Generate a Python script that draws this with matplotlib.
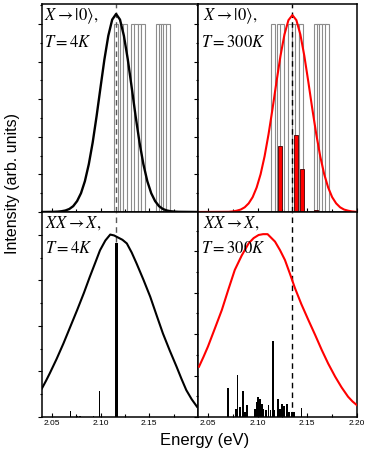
import matplotlib
matplotlib.use("Agg")
import matplotlib.pyplot as plt
from matplotlib.ticker import MultipleLocator, FixedLocator

plt.rcParams['font.family'] = ['Liberation Sans', 'DejaVu Sans']
plt.rcParams['mathtext.fontset'] = 'stix'

# ---------------- data ----------------
# energy levels (gray outlined bars), shared by both top panels
levels = [2.1155, 2.1215, 2.1250, 2.1330, 2.1365, 2.1400, 2.1440,
          2.1590, 2.1615, 2.1640, 2.1665, 2.1695]
level_height = [1.0] * len(levels)

# top-left: X -> |0>, T = 4K (black curve)
tl_x = [2.040, 2.052, 2.056, 2.060, 2.064, 2.068, 2.072, 2.076, 2.080,
        2.084, 2.088, 2.092, 2.096, 2.100, 2.104, 2.108, 2.112, 2.116,
        2.120, 2.124, 2.128, 2.132, 2.136, 2.140, 2.144, 2.148, 2.152,
        2.156, 2.160, 2.164, 2.168, 2.172, 2.176, 2.180, 2.200]
tl_y = [0.000, 0.001, 0.002, 0.004, 0.008, 0.016, 0.031, 0.058, 0.100,
        0.164, 0.254, 0.370, 0.510, 0.662, 0.811, 0.937, 1.023, 1.053,
        1.023, 0.937, 0.811, 0.662, 0.510, 0.370, 0.254, 0.164, 0.100,
        0.058, 0.031, 0.016, 0.008, 0.004, 0.002, 0.001, 0.000]
tl_line = 2.116

# top-right: X -> |0>, T = 300K (red curve + red bars)
tr_x = [2.040, 2.071, 2.075, 2.079, 2.083, 2.087, 2.091, 2.095, 2.099,
        2.103, 2.107, 2.111, 2.115, 2.119, 2.123, 2.127, 2.131, 2.135,
        2.139, 2.143, 2.147, 2.151, 2.155, 2.159, 2.163, 2.167, 2.171,
        2.175, 2.179, 2.183, 2.187, 2.191, 2.195, 2.199]
tr_y = [0.000, 0.001, 0.003, 0.007, 0.013, 0.025, 0.046, 0.079, 0.130,
        0.201, 0.296, 0.414, 0.549, 0.693, 0.830, 0.944, 1.020, 1.047,
        1.020, 0.944, 0.830, 0.693, 0.549, 0.414, 0.296, 0.201, 0.130,
        0.079, 0.046, 0.025, 0.013, 0.007, 0.003, 0.001]
tr_bar_x = [2.1225, 2.1388, 2.1445, 2.1590]
tr_bar_y = [0.350, 0.410, 0.230, 0.012]
tr_line = 2.135

# bottom-left: XX -> X, T = 4K
bl_x = [2.040, 2.044, 2.048, 2.055, 2.062, 2.069, 2.076, 2.083, 2.089,
        2.0945, 2.0995, 2.105, 2.110, 2.114, 2.118, 2.1225, 2.127, 2.132,
        2.137, 2.144, 2.151, 2.1575, 2.164, 2.171, 2.178, 2.183, 2.188,
        2.1935, 2.199]
bl_y = [0.126, 0.158, 0.192, 0.255, 0.323, 0.396, 0.469, 0.545, 0.615,
        0.676, 0.732, 0.775, 0.801, 0.797, 0.788, 0.778, 0.762, 0.722,
        0.674, 0.603, 0.528, 0.447, 0.367, 0.292, 0.221, 0.168, 0.118,
        0.078, 0.045]
bl_bar_x = [2.0694, 2.0760, 2.0790, 2.0926, 2.0988, 2.1161]
bl_bar_y = [0.026, 0.006, 0.006, 0.004, 0.114, 0.765]
bl_bar_w = [0.0012, 0.0012, 0.0012, 0.0012, 0.0014, 0.003]

# bottom-right: XX -> X, T = 300K
br_x = [2.041, 2.0455, 2.050, 2.057, 2.064, 2.0705, 2.077, 2.084, 2.091,
        2.096, 2.101, 2.1055, 2.110, 2.1175, 2.1225, 2.1275, 2.1325, 2.1376,
        2.144, 2.151, 2.158, 2.1645, 2.171, 2.178, 2.1845, 2.191, 2.1955,
        2.1997]
br_y = [0.243, 0.290, 0.340, 0.428, 0.517, 0.615, 0.710, 0.780, 0.839,
        0.864, 0.879, 0.883, 0.883, 0.847, 0.806, 0.758, 0.692, 0.622,
        0.545, 0.469, 0.395, 0.324, 0.258, 0.195, 0.143, 0.098, 0.075,
        0.058]
br_bar_x = [2.0705, 2.0779, 2.0799, 2.0820, 2.0850, 2.0873, 2.0893, 2.0974,
            2.0994, 2.1007, 2.1027, 2.1041, 2.1057, 2.1081, 2.1108, 2.1128,
            2.1152, 2.1168, 2.1208, 2.1228, 2.1248, 2.1268, 2.1293, 2.1319,
            2.1343, 2.1369, 2.1443]
br_bar_y = [0.139, 0.037, 0.203, 0.050, 0.126, 0.024, 0.058, 0.041,
            0.073, 0.098, 0.089, 0.065, 0.041, 0.032, 0.058, 0.032,
            0.367, 0.032, 0.087, 0.041, 0.065, 0.053, 0.063, 0.024,
            0.024, 0.024, 0.045]
br_line = 2.135

xticks = [2.05, 2.10, 2.15, 2.20]
xticklabels = ['2.05', '2.10', '2.15', '2.20']

# ---------------- layout ----------------
W, H = 374, 461
fig = plt.figure(figsize=(W / 100, H / 100), dpi=100)

def frac(x0, y0, x1, y1):
    return [x0 / W, 1 - y1 / H, (x1 - x0) / W, (y1 - y0) / H]

ax_tl = fig.add_axes(frac(42, 4, 198, 212))
ax_tr = fig.add_axes(frac(198, 4, 357, 212))
ax_bl = fig.add_axes(frac(42, 212, 198, 417))
ax_br = fig.add_axes(frac(198, 212, 357, 417))

for ax in (ax_tl, ax_tr, ax_bl, ax_br):
    ax.set_xlim(2.04, 2.20)
    for s in ax.spines.values():
        s.set_linewidth(1.1)
    ax.xaxis.set_major_locator(FixedLocator(xticks))
    ax.xaxis.set_minor_locator(MultipleLocator(0.025))
    ax.tick_params(axis='x', which='major', direction='in', length=3, width=0.8,
                   labelsize=6, pad=2)
    ax.tick_params(axis='x', which='minor', direction='in', length=2, width=0.8)
    ax.tick_params(axis='y', which='major', direction='out', length=3, width=0.8,
                   labelleft=False)
    ax.tick_params(axis='y', which='minor', direction='out', length=1.6, width=0.8)

for ax in (ax_tl, ax_tr):
    ax.set_ylim(0, 1.106)
    ax.yaxis.set_major_locator(MultipleLocator(0.2))
    ax.yaxis.set_minor_locator(MultipleLocator(0.1))
    ax.tick_params(axis='x', labelbottom=False)

ax_bl.set_ylim(0, 0.9)
ax_br.set_ylim(0, 0.99)
for ax in (ax_bl, ax_br):
    ax.yaxis.set_major_locator(MultipleLocator(0.2))
    ax.yaxis.set_minor_locator(MultipleLocator(0.1))

ax_bl.set_xticks(xticks[:3])
ax_bl.set_xticklabels(xticklabels[:3])
ax_br.set_xticks(xticks)
ax_br.set_xticklabels(xticklabels)

# ---------------- top-left ----------------
ax_tl.bar(levels, level_height, width=0.004, facecolor='white',
          edgecolor='0.55', linewidth=0.8, zorder=1)
ax_tl.axvline(tl_line, color='0.35', ls=(0, (4, 3)), lw=1.0, zorder=2)
ax_tl.plot(tl_x, tl_y, color='black', lw=1.7, zorder=3)

# ---------------- top-right ----------------
ax_tr.bar(levels, level_height, width=0.004, facecolor='white',
          edgecolor='0.55', linewidth=0.8, zorder=1)
ax_tr.bar(tr_bar_x, tr_bar_y, width=0.004, facecolor='red',
          edgecolor='#400000', linewidth=0.6, zorder=2)
ax_tr.axvline(tr_line, color='black', ls=(0, (4, 3)), lw=1.0, zorder=2)
ax_tr.plot(tr_x, tr_y, color='red', lw=1.5, zorder=3)

# ---------------- bottom-left ----------------
ax_bl.axvline(tl_line, color='0.35', ls=(0, (4, 3)), lw=1.0, zorder=1)
ax_bl.bar(bl_bar_x, bl_bar_y, width=bl_bar_w, color='black', zorder=2)
ax_bl.plot(bl_x, bl_y, color='black', lw=1.5, zorder=3)

# ---------------- bottom-right ----------------
ax_br.axvline(br_line, color='black', ls=(0, (4, 3)), lw=1.0, zorder=1)
ax_br.bar(br_bar_x, br_bar_y, width=0.0017, color='black', zorder=2)
ax_br.plot(br_x, br_y, color='red', lw=1.5, zorder=3)

# ---------------- annotations ----------------
fs = 12
ax_tl.text(0.01, 0.94, r'$X\rightarrow|0\rangle,$', transform=ax_tl.transAxes,
           fontsize=fs, ha='left', va='center')
ax_tl.text(0.01, 0.815, r'$T=4K$', transform=ax_tl.transAxes,
           fontsize=fs, ha='left', va='center')
ax_tr.text(0.03, 0.94, r'$X\rightarrow|0\rangle,$', transform=ax_tr.transAxes,
           fontsize=fs, ha='left', va='center')
ax_tr.text(0.02, 0.815, r'$T=300K$', transform=ax_tr.transAxes,
           fontsize=fs, ha='left', va='center')
ax_bl.text(0.02, 0.946, r'$XX\rightarrow X,$', transform=ax_bl.transAxes,
           fontsize=fs, ha='left', va='center')
ax_bl.text(0.02, 0.824, r'$T=4K$', transform=ax_bl.transAxes,
           fontsize=fs, ha='left', va='center')
ax_br.text(0.03, 0.946, r'$XX\rightarrow X,$', transform=ax_br.transAxes,
           fontsize=fs, ha='left', va='center')
ax_br.text(0.02, 0.824, r'$T=300K$', transform=ax_br.transAxes,
           fontsize=fs, ha='left', va='center')

fig.text(205 / W, 1 - 440 / H, 'Energy (eV)', fontsize=12, ha='center', va='center')
fig.text(13 / W, 1 - 183 / H, 'Intensity (arb. units)', fontsize=11.5,
         rotation=90, ha='center', va='center')

fig.savefig('out.png', dpi=100)
